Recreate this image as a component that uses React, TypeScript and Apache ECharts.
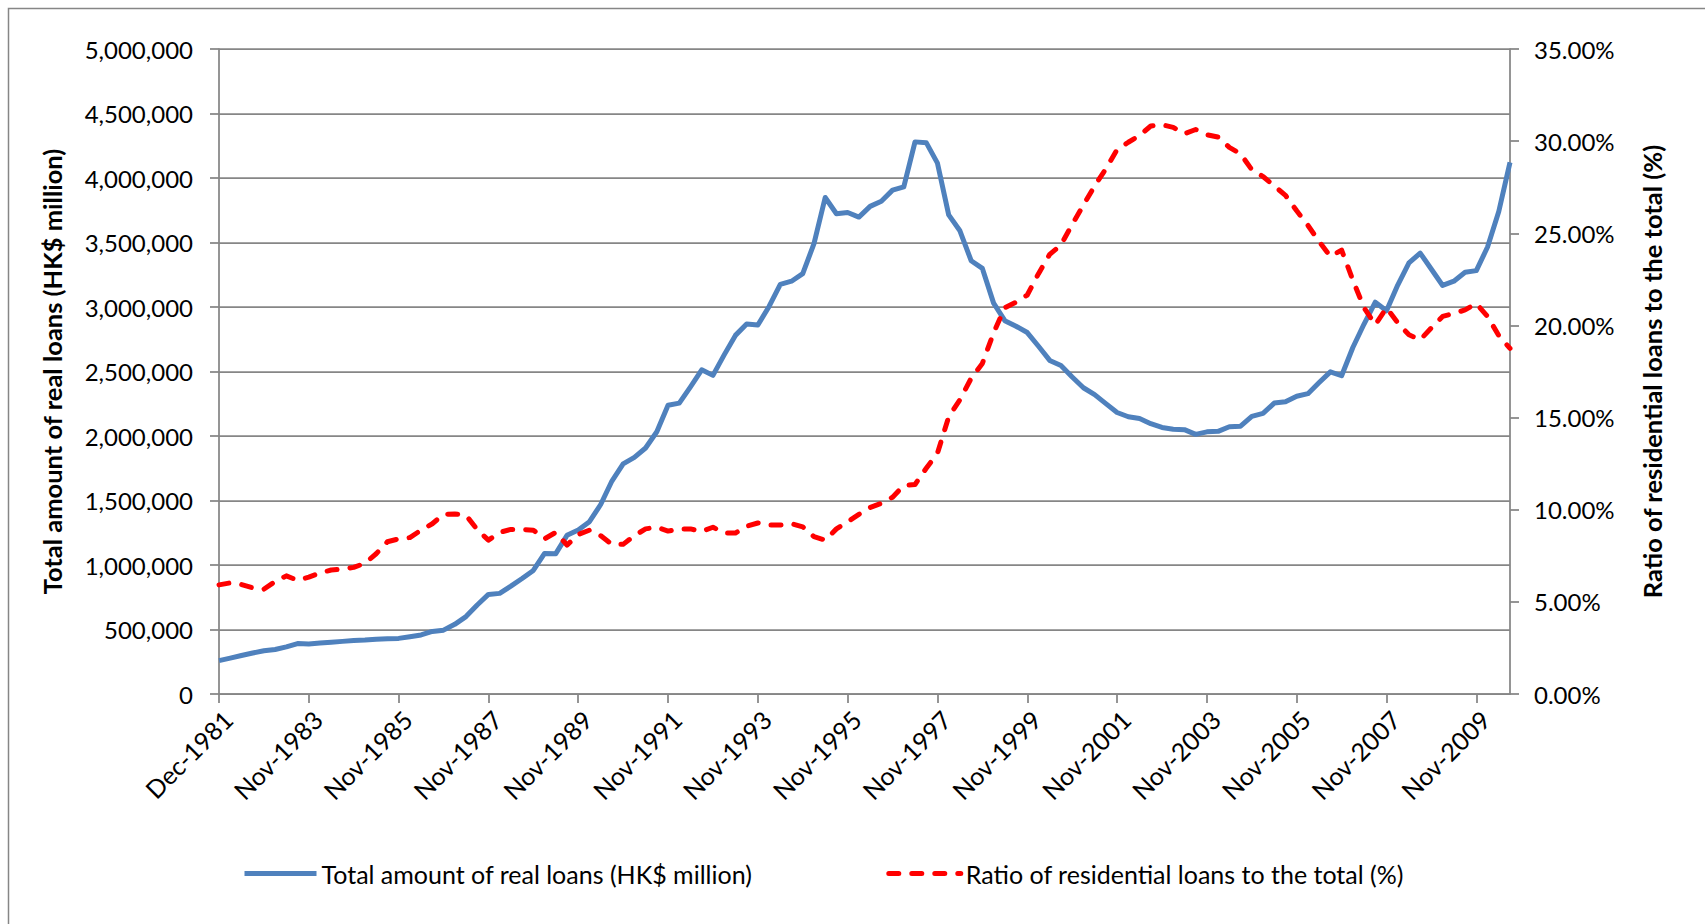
import React, { useEffect, useRef } from 'react';
import * as echarts from 'echarts';

// Category axis: first point Dec-1981, then quarterly Feb/May/Aug/Nov from 1982
const quarterMonths = ['Feb', 'May', 'Aug', 'Nov'];
const categories: string[] = ['Dec-1981'];
for (let q = 0; q < 115; q++) {
  categories.push(`${quarterMonths[q % 4]}-${1982 + Math.floor(q / 4)}`);
}

// Tick labels shown on the x axis (every 8th category)
const tickLabels = [
  'Dec-1981', 'Nov-1983', 'Nov-1985', 'Nov-1987', 'Nov-1989', 'Nov-1991', 'Nov-1993', 'Nov-1995',
  'Nov-1997', 'Nov-1999', 'Nov-2001', 'Nov-2003', 'Nov-2005', 'Nov-2007', 'Nov-2009',
];

// Total amount of real loans (HK$ million)
const totalLoans = [
  259000, 278000, 298000, 318000, 335000, 345000, 365000, 391000, 388000, 395000,
  401000, 408000, 414000, 418000, 424000, 428000, 431000, 444000, 458000, 485000,
  495000, 540000, 600000, 690000, 772000, 780000, 836000, 895000, 958000, 1090000,
  1088000, 1230000, 1272000, 1336000, 1469000, 1651000, 1784000, 1834000, 1907000, 2033000,
  2238000, 2255000, 2381000, 2513000, 2470000, 2629000, 2780000, 2868000, 2861000, 3004000,
  3176000, 3200000, 3259000, 3491000, 3849000, 3723000, 3733000, 3697000, 3780000, 3820000,
  3906000, 3932000, 4280000, 4274000, 4115000, 3714000, 3591000, 3359000, 3299000, 3030000,
  2894000, 2851000, 2802000, 2696000, 2586000, 2546000, 2457000, 2374000, 2321000, 2251000,
  2182000, 2149000, 2135000, 2095000, 2066000, 2052000, 2049000, 2013000, 2032000, 2036000,
  2072000, 2076000, 2152000, 2175000, 2255000, 2265000, 2308000, 2328000, 2414000, 2497000,
  2467000, 2686000, 2868000, 3037000, 2971000, 3170000, 3342000, 3418000, 3293000, 3167000,
  3200000, 3269000, 3282000, 3465000, 3740000, 4121000,
];

// Ratio of residential loans to the total (%)
const residentialRatio = [
  5.92, 6.03, 5.94, 5.76, 5.69, 6.10, 6.41, 6.17, 6.34, 6.57,
  6.73, 6.78, 6.87, 7.10, 7.61, 8.26, 8.42, 8.49, 8.89, 9.24,
  9.75, 9.77, 9.70, 8.92, 8.35, 8.77, 8.93, 8.93, 8.89, 8.42,
  8.77, 8.08, 8.66, 8.89, 8.59, 8.12, 8.12, 8.59, 8.96, 9.05,
  8.84, 8.96, 8.96, 8.82, 9.05, 8.73, 8.73, 9.10, 9.28, 9.17,
  9.17, 9.24, 9.07, 8.54, 8.35, 8.96, 9.35, 9.75, 10.12, 10.35,
  10.68, 11.32, 11.37, 12.25, 13.07, 15.04, 15.97, 17.13, 17.94, 19.60,
  20.96, 21.26, 21.65, 22.81, 23.86, 24.37, 25.48, 26.53, 27.57, 28.50,
  29.54, 29.94, 30.31, 30.82, 30.89, 30.75, 30.40, 30.63, 30.35, 30.22,
  29.66, 29.31, 28.45, 28.08, 27.57, 27.06, 26.22, 25.43, 24.55, 23.74,
  24.09, 22.46, 20.96, 20.03, 20.96, 20.14, 19.49, 19.22, 19.87, 20.49,
  20.65, 20.84, 21.19, 20.49, 19.45, 18.75,
];

const seriesNames = [
  'Total amount of real loans (HK$ million)',
  'Ratio of residential loans to the total (%)',
];

const FONT = 'Lato, "Open Sans", sans-serif';
const GRAY = '#868686';

export default function App() {
  const ref = useRef<HTMLDivElement>(null);

  useEffect(() => {
    if (!ref.current) return;
    const chart = echarts.init(ref.current, null, { renderer: 'svg' });
    const axisLine = { show: true, lineStyle: { color: GRAY, width: 1.75 } };
    const axisTick = { show: true, inside: false, length: 9, lineStyle: { color: GRAY, width: 1.75 } };
    chart.setOption({
      animation: false,
      backgroundColor: '#ffffff',
      textStyle: { fontFamily: FONT },
      graphic: [
        {
          type: 'rect',
          silent: true,
          shape: { x: 8.5, y: 8.5, width: 1800, height: 1000 },
          style: { fill: 'none', stroke: GRAY, lineWidth: 1.5 },
        },
      ],
      grid: { left: 219, top: 49, width: 1291, height: 645 },
      legend: {
        left: 237,
        top: 856,
        itemWidth: 72,
        itemHeight: 14,
        itemGap: 134,
        itemStyle: { opacity: 0 },
        lineStyle: { width: 5 },
        textStyle: { fontSize: 25, color: '#000', fontFamily: FONT },
        data: seriesNames,
      },
      xAxis: {
        type: 'category',
        data: categories,
        boundaryGap: false,
        axisLine,
        axisTick: { ...axisTick, interval: 7 },
        axisLabel: {
          interval: 7,
          rotate: 45,
          fontSize: 25,
          color: '#000',
          margin: 12,
          verticalAlign: 'top',
          fontFamily: FONT,
          formatter: (v: string) => (tickLabels.includes(v) ? v : ''),
        },
        splitLine: { show: false },
      },
      yAxis: [
        {
          type: 'value',
          min: 0,
          max: 5000000,
          interval: 500000,
          axisLine,
          axisTick,
          axisLabel: {
            fontSize: 24,
            color: '#000',
            margin: 26,
            fontFamily: FONT,
            formatter: (v: number) => v.toLocaleString('en-US'),
          },
          splitLine: { show: true, lineStyle: { color: GRAY, width: 1.75 } },
          name: seriesNames[0],
          nameLocation: 'middle',
          nameRotate: 90,
          nameGap: 154,
          nameTextStyle: { fontSize: 25.5, fontWeight: 'bold', color: '#000', fontFamily: FONT },
        },
        {
          type: 'value',
          position: 'right',
          min: 0,
          max: 35,
          interval: 5,
          axisLine,
          axisTick,
          axisLabel: {
            fontSize: 24,
            color: '#000',
            margin: 24,
            fontFamily: FONT,
            formatter: (v: number) => v.toFixed(2) + '%',
          },
          splitLine: { show: false },
          name: seriesNames[1],
          nameLocation: 'middle',
          nameRotate: 90,
          nameGap: 129,
          nameTextStyle: { fontSize: 25.5, fontWeight: 'bold', color: '#000', fontFamily: FONT },
        },
      ],
      series: [
        {
          name: seriesNames[0],
          type: 'line',
          yAxisIndex: 0,
          data: totalLoans,
          symbol: 'none',
          lineStyle: { color: '#4F81BD', width: 5, join: 'round' },
          itemStyle: { color: '#4F81BD' },
        },
        {
          name: seriesNames[1],
          type: 'line',
          yAxisIndex: 1,
          data: residentialRatio,
          symbol: 'none',
          lineStyle: { color: '#FF0000', width: 5, type: [10, 13], cap: 'round', join: 'round' },
          itemStyle: { color: '#FF0000' },
        },
      ],
    });
    return () => chart.dispose();
  }, []);

  return (
    <div
      ref={ref}
      style={{ position: 'fixed', left: 0, top: 0, width: 1705, height: 924, background: '#fff' }}
    />
  );
}
